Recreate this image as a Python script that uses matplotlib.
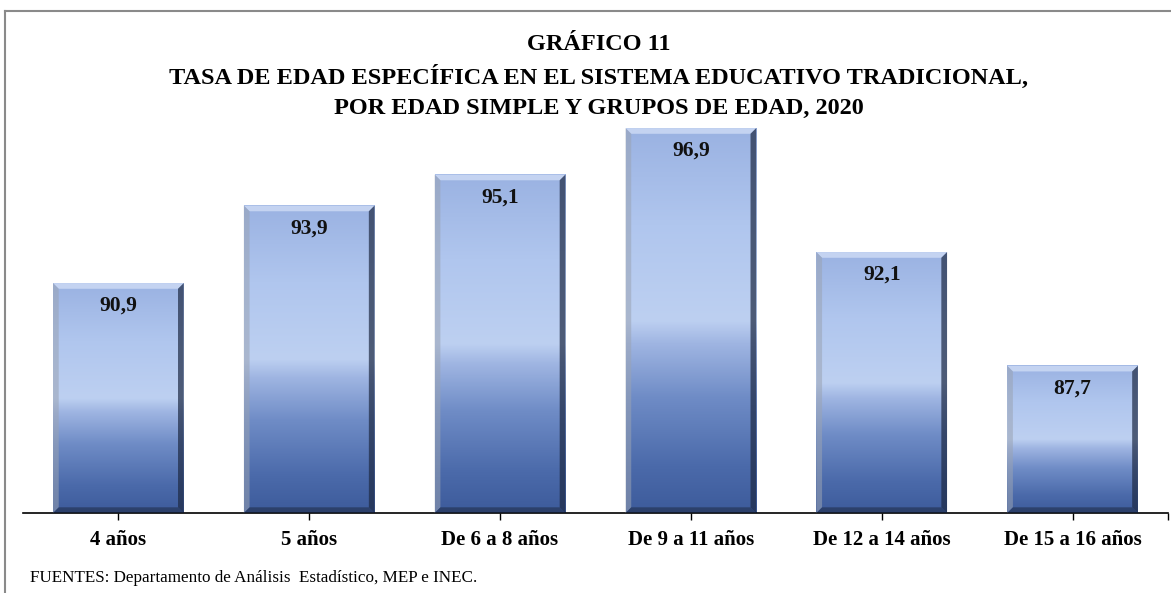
import numpy as np
import matplotlib
matplotlib.use('Agg')
import matplotlib.pyplot as plt
from matplotlib.colors import LinearSegmentedColormap
from matplotlib.patches import Polygon
from matplotlib.lines import Line2D

# Data
categories = ['4 años', '5 años', 'De 6 a 8 años', 'De 9 a 11 años',
              'De 12 a 14 años', 'De 15 a 16 años']
values = [90.9, 93.9, 95.1, 96.9, 92.1, 87.7]
labels = ['90,9', '93,9', '95,1', '96,9', '92,1', '87,7']

title_lines = ['GRÁFICO 11',
               'TASA DE EDAD ESPECÍFICA EN EL SISTEMA EDUCATIVO TRADICIONAL,',
               'POR EDAD SIMPLE Y GRUPOS DE EDAD, 2020']
source = 'FUENTES: Departamento de Análisis  Estadístico, MEP e INEC.'

font = 'Liberation Serif'
ymin, ymax = 82, 98
bar_w = 0.685

# gradient: position 0 = bottom of bar, 1 = top
grad = LinearSegmentedColormap.from_list('bar', [
    (0.0, '#3d5b9b'),
    (0.12, '#4b6aaa'),
    (0.30, '#6f8cc6'),
    (0.44, '#9fb5e2'),
    (0.50, '#bdd0f1'),
    (0.75, '#b0c6ee'),
    (1.0, '#9ab2e2'),
])

fig = plt.figure(figsize=(11.71, 5.93), dpi=100)
ax = fig.add_axes([0.0196, 0.1349, 0.9778, 0.697])

x = np.arange(len(categories))
g = np.linspace(0, 1, 256).reshape(-1, 1)
bx = 0.030   # bevel size in x
by = 0.22    # bevel size in y

for xi, v, lab in zip(x, values, labels):
    x0, x1 = xi - bar_w / 2, xi + bar_w / 2
    ax.imshow(g, cmap=grad, origin='lower', aspect='auto',
              extent=(x0, x1, ymin, v), zorder=2)
    # bevels
    ax.add_patch(Polygon([(x0, v), (x1, v), (x1 - bx, v - by), (x0 + bx, v - by)],
                         closed=True, facecolor='#d6e2f8', alpha=0.7, lw=0, zorder=3))
    ax.add_patch(Polygon([(x1, v), (x1, ymin), (x1 - bx, ymin + by), (x1 - bx, v - by)],
                         closed=True, facecolor='#1e2a44', alpha=0.7, lw=0, zorder=3))
    ax.add_patch(Polygon([(x0, v), (x0, ymin), (x0 + bx, ymin + by), (x0 + bx, v - by)],
                         closed=True, facecolor='#9aa3b3', alpha=0.55, lw=0, zorder=3))
    ax.add_patch(Polygon([(x0, ymin), (x1, ymin), (x1 - bx, ymin + by), (x0 + bx, ymin + by)],
                         closed=True, facecolor='#1e2a44', alpha=0.55, lw=0, zorder=3))
    ax.text(xi, v - 0.88, lab, ha='center', va='center', fontsize=15.5,
            fontweight='bold', family=font, color='#111111', zorder=4)

ax.set_xlim(-0.5, len(categories) - 0.5)
ax.set_ylim(ymin, ymax)
ax.set_xticks(x)
ax.set_xticklabels(categories, fontsize=15, fontweight='bold', family=font)
ax.set_xticks([len(categories) - 0.5], minor=True)
ax.tick_params(axis='x', which='both', length=5, width=1, direction='out', pad=7)
ax.set_yticks([])
for s in ['top', 'right', 'left']:
    ax.spines[s].set_visible(False)
ax.spines['bottom'].set_linewidth(1.2)
ax.patch.set_alpha(0)

for yy, line in zip([45, 77, 108], title_lines):
    fig.text(0.511, 1 - yy / 593, line, ha='center', va='center', fontsize=17.5,
             fontweight='bold', family=font)
fig.text(0.026, 1 - 578 / 593, source, ha='left', va='center', fontsize=12.3, family=font)

# outer border (top and left only visible)
fig.add_artist(Line2D([5 / 1171, 5 / 1171], [0, 1 - 11 / 593], transform=fig.transFigure,
                      color='#8a8a8a', lw=1.5))
fig.add_artist(Line2D([5 / 1171, 1], [1 - 11 / 593, 1 - 11 / 593], transform=fig.transFigure,
                      color='#8a8a8a', lw=1.5))

fig.savefig('out.png', dpi=100)
